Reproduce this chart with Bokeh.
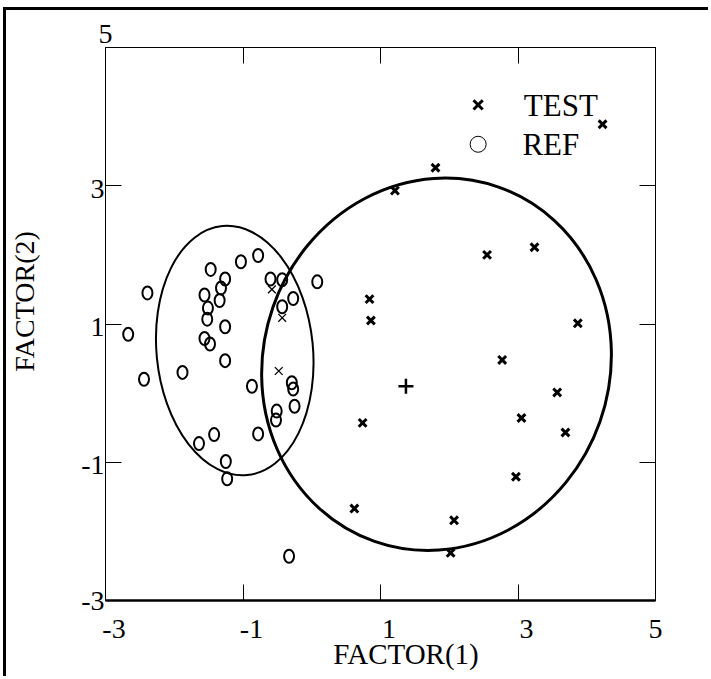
import math
from bokeh.plotting import figure
from bokeh.models import (Label, LinearAxis, FixedTicker, Range1d)
from bokeh.embed import file_html
from bokeh.resources import INLINE

# ---------------- data ----------------
ref_x = [-2.39, -2.67, -1.47, -1.26, -1.32, -1.56, -1.34, -1.51, -1.52, -1.26,
         -1.56, -1.48, -1.26, -1.88, -2.44, -1.03, -0.78, -0.60, -0.43, -0.27,
         -0.43, 0.08, -0.87, -0.29, -0.27, -0.25, -0.51, -0.52, -0.78, -1.42,
         -1.64, -1.25, -1.23, -0.33]
ref_y = [1.45, 0.85, 1.79, 1.65, 1.52, 1.42, 1.34, 1.23, 1.07, 0.96,
         0.79, 0.71, 0.47, 0.30, 0.20, 1.90, 1.99, 1.65, 1.64, 1.37,
         1.25, 1.61, 0.10, 0.15, 0.06, -0.19, -0.26, -0.39, -0.59, -0.60,
         -0.73, -0.99, -1.24, -2.36]

test_x = [4.23, 1.80, 1.21, 3.24, 2.55, 0.84, 0.86, 3.87, 2.77, 3.57,
          0.74, 3.05, 3.69, 2.97, 0.62, 2.07, 2.02]
test_y = [3.89, 3.26, 2.93, 2.11, 2.00, 1.36, 1.05, 1.01, 0.48, 0.01,
          -0.43, -0.36, -0.57, -1.21, -1.67, -1.84, -2.31]

# TEST points lying inside the REF cloud (drawn with a thin cross)
test_in_ref_x = [-0.58, -0.43, -0.48]
test_in_ref_y = [1.50, 1.09, 0.32]

centroid_x = [1.37]
centroid_y = [0.10]

# confidence ellipses: [REF, TEST]
ell_cx = [-1.12, 1.815]
ell_cy = [0.615, 0.418]
ell_w = [2.275, 5.04]
ell_h = [3.62, 5.43]
ell_angle_deg = [5.7, -19.3]

tick_values = [-3, -1, 1, 3, 5]
tick_labels = ["-3", "-1", "1", "3", "5"]
x_title = "FACTOR(1)"
y_title = "FACTOR(2)"
legend_labels = ["TEST", "REF"]
legend_x = 2.42
legend_y = [4.17, 3.60]

FONT = "Liberation Serif"
FS = "28px"

x0, x1 = min(tick_values), max(tick_values)
y0, y1 = min(tick_values), max(tick_values)

FRAME_W, FRAME_H = 550, 553
kx = FRAME_W / (x1 - x0)
ky = FRAME_H / (y1 - y0)

p = figure(width=705, height=669, x_range=Range1d(x0, x1),
           y_range=Range1d(y0, y1), x_axis_location=None,
           y_axis_location=None, output_backend="svg",
           toolbar_location=None,
           min_border_left=99, min_border_right=56,
           min_border_top=37, min_border_bottom=79,
           background_fill_color="white", border_fill_color="white")
p.styles = {"margin-left": "3px", "margin-top": "7px",
            "border-left": "3px solid black", "border-top": "3px solid black"}
for g in p.grid:
    g.visible = False
p.outline_line_color = "black"
p.outline_line_width = 1
p.outline_line_alpha = 1


def shifted(values, shift_px, lo, hi, k):
    """label anchors nudged by a few pixels (kept inside the range)"""
    return [round(min(max(v + shift_px / k, lo), hi), 6) for v in values]


def tick_axis(**kw):
    return LinearAxis(ticker=FixedTicker(ticks=tick_values),
                      major_tick_in=16, major_tick_out=0,
                      major_tick_line_color="black", major_tick_line_width=1,
                      minor_tick_line_color=None, axis_line_color="black",
                      major_label_overrides={v: "" for v in tick_values},
                      major_label_text_font_size="0px",
                      major_label_standoff=0, **kw)


def label_axis(ticks, labels, standoff, size=FS, orientation="horizontal"):
    return LinearAxis(ticker=FixedTicker(ticks=ticks), major_tick_in=0,
                      major_tick_out=0, major_tick_line_color=None,
                      minor_tick_line_color=None, axis_line_color=None,
                      major_label_overrides=dict(zip(ticks, labels)),
                      major_label_standoff=standoff,
                      major_label_orientation=orientation,
                      major_label_text_font=FONT,
                      major_label_text_font_size=size,
                      major_label_text_color="black")


# bottom: ticks, tick labels, axis title
p.add_layout(tick_axis(axis_line_width=2.5), "below")
p.add_layout(label_axis(shifted(tick_values, 8.5, x0, x1, kx), tick_labels, 19),
             "below")
p.add_layout(label_axis(shifted([(x0 + x1) / 2], 25.5, x0, x1, kx), [x_title],
                        -3, size="29px"), "below")

# left: ticks, tick labels (top value printed above the frame corner), title
y_inner = [v for v in tick_values if v != y1]
y_inner_lab = [l for v, l in zip(tick_values, tick_labels) if v != y1]
p.add_layout(tick_axis(axis_line_width=1), "left")
p.add_layout(label_axis(shifted(y_inner, -2.8, y0, y1, ky), y_inner_lab, 1),
             "left")
p.add_layout(label_axis(shifted([(y0 + y1) / 2], 22.6, y0, y1, ky), [y_title],
                        38, orientation="parallel"), "left")

# right
p.add_layout(tick_axis(axis_line_width=1), "right")

# top: ticks, plus the "5" of the vertical scale above the upper-left corner
p.add_layout(tick_axis(axis_line_width=1), "above")
p.add_layout(label_axis(shifted([x0], -7, x0, x1, kx),
                        [tick_labels[tick_values.index(y1)]], 5), "above")

# ellipses
p.ellipse(x=[ell_cx[0]], y=[ell_cy[0]], width=[ell_w[0]], height=[ell_h[0]],
          angle=[math.radians(ell_angle_deg[0])], fill_color=None,
          line_color="black", line_width=2)
p.ellipse(x=[ell_cx[1]], y=[ell_cy[1]], width=[ell_w[1]], height=[ell_h[1]],
          angle=[math.radians(ell_angle_deg[1])], fill_color=None,
          line_color="black", line_width=3)

# points
p.ellipse(x=ref_x, y=ref_y, width=10, height=13, width_units="screen",
          height_units="screen", fill_color=None, line_color="black",
          line_width=2)
p.scatter(x=test_x, y=test_y, marker="x", size=11, line_width=3,
          line_color="black")
p.scatter(x=test_in_ref_x, y=test_in_ref_y, marker="x", size=11,
          line_width=1.3, line_color="black")
p.scatter(x=centroid_x, y=centroid_y, marker="cross", size=15,
          line_width=2.5, line_color="black")

# legend (borderless)
p.scatter(x=[legend_x], y=[legend_y[0]], marker="x", size=13, line_width=3,
          line_color="black")
p.scatter(x=[legend_x], y=[legend_y[1]], marker="circle", size=16,
          line_width=1, line_color="black", fill_color=None)
p.add_layout(Label(x=legend_x, y=legend_y[0], text=legend_labels[0],
                   x_offset=45.7, y_offset=-0.7, text_align="left",
                   text_baseline="middle", text_font=FONT,
                   text_font_size="31px", text_color="black"))
p.add_layout(Label(x=legend_x, y=legend_y[1], text=legend_labels[1],
                   x_offset=44.3, y_offset=0, text_align="left",
                   text_baseline="middle", text_font=FONT,
                   text_font_size="31px", text_color="black"))

open("out.html", "w").write(file_html(p, INLINE))
